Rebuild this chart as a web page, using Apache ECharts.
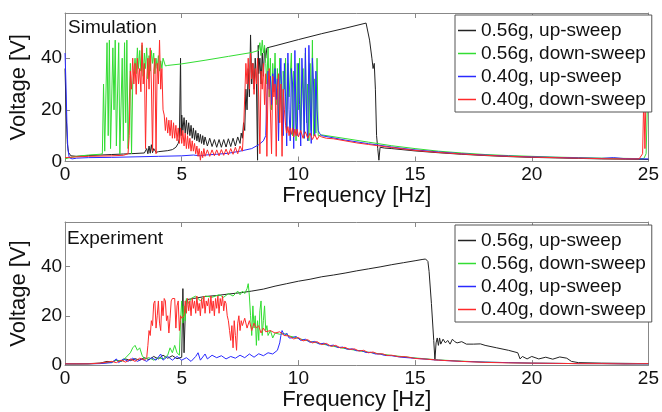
<!DOCTYPE html>
<html>
<head>
<meta charset="utf-8">
<script src="https://cdn.jsdelivr.net/npm/echarts@6/dist/echarts.min.js"></script>
<style>
  html, body { margin: 0; padding: 0; background: #fff; }
  #chart { width: 662px; height: 412px; }
</style>
</head>
<body>
<div id="chart"></div>
<script>
// legend names
var names = ["0.56g, up-sweep", "0.56g, down-sweep", "0.40g, up-sweep", "0.40g, down-sweep"];
var xTicks = [0, 5, 10, 15, 20, 25];
var yTicks = [0, 20, 40];

// ---- Simulation (top) : [frequency Hz, voltage V] ----
var simUp056 = [
  [0,36],[0.05,18],[0.1,7],[0.15,3.5],[0.25,2.2],[0.5,2],[1,2.3],[1.5,2.5],[2,2.7],[2.5,2.9],[3,3.1],[3.4,3.3],
  [3.5,5],[3.55,3],[3.6,6],[3.65,3.2],[3.7,6.5],[3.75,3.4],[3.8,5],[3.9,3.5],[4.0,3.8],[4.2,4],[4.4,4.2],[4.6,4.6],
  [4.75,5.5],[4.85,7],[4.9,9],[4.95,40],[4.98,10],
  [5.0,18],[5.05,12],[5.1,17],[5.15,11],[5.2,16],[5.25,10.5],[5.3,15],[5.35,10],[5.4,14],[5.45,9],[5.5,13],[5.55,8.5],
  [5.6,12],[5.65,8],[5.7,11],[5.75,7.5],[5.8,10.5],[5.85,7],[5.9,10],[5.95,6.5],[6.0,9.5],[6.1,6],[6.2,9],[6.3,5.8],
  [6.4,8.5],[6.5,5.5],[6.6,8.5],[6.7,5.5],[6.8,8.5],[6.9,5.6],[7.0,8.8],[7.1,5.8],[7.2,9],[7.3,6],[7.4,9.5],[7.5,7],
  [7.55,11],[7.6,9],[7.65,15],[7.7,12],
  [7.75,28],[7.8,20],[7.85,36],[7.9,25],[7.95,49],[8.0,30],[8.05,38],[8.1,28],[8.15,40],[8.2,32],[8.25,0.5],[8.28,45],
  [8.3,34],[8.35,40],[8.4,30],[8.45,42],[8.5,33],[8.55,44],[8.6,40],[8.65,44],
  [9,44.8],[10,47.2],[11,49.5],[12,51.6],[12.9,53.6],[12.95,53],[13.05,47],[13.15,40],[13.2,36],[13.25,38],[13.3,28],
  [13.35,10],[13.4,5],[13.45,0.5],[13.5,5.5],[13.7,5.2],[14,5],[15,4.1],[16,3.4],[17,2.8],[18,2.3],[19,1.9],[20,1.6],
  [21,1.4],[22,1.2],[23,1.0],[24,0.9],[25,0.8]
];
var simDown056 = [
  [0,1],[0.2,1.5],[0.5,2],[1.0,2.5],[1.5,2.8],
  [1.6,3],[1.65,30],[1.7,4],[1.8,46],[1.85,10],[1.9,47],[1.95,5],[2.05,44],[2.1,20],[2.15,47],[2.2,6],[2.3,46],[2.35,3],
  [2.45,40],[2.5,8],[2.55,46],[2.6,15],[2.65,47],[2.7,5],[2.8,38],[2.85,3],[2.9,30],
  [3.0,40],[3.05,34],[3.1,44],[3.15,36],[3.2,43],[3.25,35],[3.3,45],[3.35,33],[3.4,42],[3.45,36],[3.5,44],[3.55,32],
  [3.6,41],[3.65,35],[3.7,43],[3.75,38],[3.8,42],[3.85,34],[3.9,40],[3.95,36],[4.0,41],[4.05,35],[4.1,39],[4.15,36],
  [4.2,40],[4.3,37],
  [4.4,37.2],[5,37.8],[6,39.2],[7,40.7],[8,42.2],[8.3,43],
  [8.35,46],[8.4,41],[8.45,47],[8.5,42],[8.55,45],[8.6,38],
  [8.65,30],[8.7,44],[8.75,25],[8.8,40],[8.85,20],[8.9,38],[8.95,28],[9.0,42],[9.05,22],[9.1,36],[9.15,15],[9.2,40],
  [9.25,30],[9.3,10],[9.35,35],[9.4,28],[9.45,40],[9.5,12],[9.55,38],[9.6,25],[9.7,42],[9.75,10],[9.8,35],[9.85,30],
  [9.9,8],[9.95,38],[10.0,20],[10.05,40],[10.1,12],[10.2,36],[10.25,9],[10.3,42],[10.35,15],[10.4,30],[10.45,8],
  [10.5,38],[10.55,12],[10.6,47],[10.65,10],[10.7,32],[10.75,11],[10.8,40],[10.85,10],
  [10.9,10.5],[11,10.3],[12,8.9],[13,7.5],[14,6.1],[15,5],[16,4],[17,3.3],[18,2.7],[19,2.3],[20,2],[21,1.7],[22,1.5],
  [23,1.3],[24,1.2],[24.8,1.1],[24.9,3],[24.95,20],[25,34]
];
var simUp040 = [
  [0,42],[0.04,30],[0.08,15],[0.12,5],[0.18,1.5],[0.3,1],[0.5,1.3],[1,1.5],[2,1.6],[3,1.8],[4,2],[5,2.2],[5.5,2.5],
  [5.8,2.2],[6,2.5],[6.5,2.8],[7,3.2],[7.5,4],[8,5],[8.3,6.5],[8.5,8],[8.6,10],
  [8.65,25],[8.7,35],[8.75,28],[8.8,33],[8.85,22],[8.9,34],[8.95,27],[9.0,36],[9.05,24],[9.1,32],[9.15,8],[9.2,30],
  [9.25,40],[9.3,20],[9.35,10],[9.4,38],[9.45,25],[9.5,6],[9.55,42],[9.6,20],[9.65,8],[9.7,36],[9.75,30],[9.8,5],
  [9.85,43],[9.9,15],[9.95,10],[10.0,38],[10.05,22],[10.1,6],[10.15,40],[10.2,28],[10.25,9],[10.3,44],[10.35,18],
  [10.4,8],[10.45,45],[10.5,25],[10.55,7],[10.6,40],[10.65,30],[10.7,10],[10.75,35],[10.8,20],[10.85,12],
  [10.9,11],[11,10],[12,8.3],[13,6.9],[14,5.6],[15,4.5],[16,3.7],[17,3],[18,2.5],[19,2.1],[20,1.8],[21,1.6],[22,1.4],
  [23,1.2],[23.5,1.5],[24,1.1],[25,1]
];
var simDown040 = [
  [0,1.5],[0.5,1.8],[1,2],[2,2.2],[2.5,2.4],[2.7,3],
  [2.75,10],[2.8,35],[2.85,28],[2.9,40],[2.95,30],[3.0,38],[3.05,26],[3.1,40],[3.15,30],[3.2,36],[3.25,27],[3.3,46],
  [3.35,30],[3.4,38],[3.45,5],[3.5,32],[3.55,40],[3.6,28],[3.65,44],[3.7,30],[3.75,4],[3.8,35],[3.85,40],[3.9,3],
  [3.95,38],[4.0,30],[4.05,47],[4.1,28],[4.15,36],[4.2,20],
  [4.25,18],[4.3,12],[4.35,17],[4.4,11],[4.45,16],[4.5,10],[4.55,16],[4.6,9],[4.65,15],[4.7,9],[4.75,14],[4.8,8],
  [4.85,13],[4.9,7],[4.95,13],[5.0,7],[5.05,12],[5.1,6],[5.15,11],[5.2,5],[5.25,10],[5.3,5],[5.35,9],[5.4,4],[5.45,8],
  [5.5,4],[5.55,7],[5.6,3],
  [5.65,6],[5.7,2],[5.75,5],[5.8,0.5],[5.85,4],[5.9,1.5],[5.95,5],[6.0,2],[6.1,4.5],[6.2,2],[6.3,4.5],[6.4,2.2],
  [6.5,4.5],[6.6,2.2],[6.7,4.6],[6.8,2.4],[6.9,4.8],[7.0,2.5],[7.1,5],[7.2,2.8],[7.3,5.5],[7.4,3],[7.5,6],[7.6,4],
  [7.65,12],[7.7,25],[7.75,38],[7.8,30],[7.85,40],[7.9,28],[7.95,42],[8.0,32],[8.05,38],[8.1,26],[8.15,36],[8.2,30],
  [8.25,40],[8.3,25],[8.35,3],[8.4,35],[8.45,28],[8.5,38],[8.55,22],[8.6,34],[8.65,2],[8.7,30],[8.75,36],[8.8,20],
  [8.85,3],[8.9,33],[8.95,25],[9.0,30],[9.05,2],[9.1,28],[9.15,34],[9.2,15],[9.25,30],[9.3,2],[9.35,28],[9.4,20],
  [9.45,14],[9.5,11],[9.55,13.5],[9.6,10],[9.65,13],[9.7,10.5],[9.75,13],[9.8,9.5],[9.85,12.5],[9.9,10],[9.95,12.5],
  [10.0,9.5],[10.1,12],[10.2,9],[10.3,11.5],[10.4,9],[10.5,11],[10.6,8.5],[10.7,10.5],[10.8,8.5],[10.9,10],[11,9.5],
  [11.2,9],[11.5,8.8],[12,8],[12.5,7.2],[13,6.6],[14,5.4],[15,4.3],[16,3.5],[17,2.9],[18,2.4],[19,2],[20,1.7],[21,1.5],
  [22,1.3],[23,1.1],[24,1],[24.6,1],[24.75,3],[24.8,25],[24.85,5],[24.9,28],[25,22]
];

// ---- Experiment (bottom) ----
var expUp056 = [
  [0,0.5],[0.5,0.5],[1,0.6],[1.5,0.8],[1.8,1.5],[2,1.2],[2.2,2],[2.4,1.5],[2.6,2.5],[2.8,1.8],[3,2.6],[3.2,2],[3.4,3],
  [3.6,2.2],[3.8,3.5],[4.0,2.5],[4.2,4],[4.4,2.8],[4.6,3.8],[4.8,2.6],[5.0,3.2],[5.05,31],[5.1,5],[5.15,20],[5.2,26.5],
  [5.5,27],[6,27.8],[6.5,28.2],[7,28.8],[7.5,29.3],[8,30],[8.5,30.8],[9,32],[9.5,33],[10,34],[10.5,34.8],[11,35.8],
  [11.5,36.5],[12,37.3],[12.5,38.2],[13,39],[13.5,39.8],[14,40.7],[14.5,41.5],[15,42.3],[15.3,42.8],[15.45,43],
  [15.55,42],[15.6,38],[15.7,25],[15.8,10],[15.85,2],[15.9,9],[15.95,11],[16.0,8],[16.05,11],[16.1,8.5],[16.2,10.5],
  [16.3,9],[16.4,10],[16.5,8.5],[16.6,10.5],[16.7,9.5],[16.8,9],[17.0,9.5],[17.2,8.5],[17.5,8.5],[17.8,8.6],[18,8],
  [18.5,7],[19,6],[19.4,5],[19.5,2.5],[19.6,3.5],[19.8,2.5],[20,3.5],[20.3,2.5],[20.6,3.2],[20.9,2.4],[21.2,3.3],
  [21.5,2.8],[21.7,1.5],[22,1],[23,0.8],[24,0.7],[25,0.6]
];
var expDown056 = [
  [0,0.5],[1,0.5],[1.5,0.7],[2,1.2],[2.2,2],[2.4,1.5],[2.6,3],[2.8,5],[2.9,7],[3.0,8],[3.1,6],[3.2,7],[3.3,4],[3.4,2.5],
  [3.6,3],[3.8,2],[4.0,3],[4.2,2.5],[4.4,4],[4.5,7],[4.6,5],[4.7,8],[4.8,5],[4.9,4],[4.95,18],[5.0,26],[5.05,17],
  [5.1,24],[5.15,18],[5.2,27],[5.3,25],[5.4,27],[5.6,28],[5.8,26],[6,28],[6.3,27.5],[6.6,28.5],[6.8,27.5],[7.0,29],
  [7.2,28],[7.4,30],[7.5,28.5],[7.6,30],[7.7,29],[7.8,31],[7.85,33],[7.9,28],[7.95,20],[8.0,12],[8.05,24],[8.1,15],
  [8.15,20],[8.2,8],[8.25,18],[8.3,10],[8.35,22],[8.4,26],[8.45,12],[8.5,18],[8.55,24],[8.6,14],[8.65,16],[8.7,12],
  [8.8,14],[8.9,11],[9.0,13],[9.2,12.5],[9.4,12.8],[9.6,11.8],[9.8,11.4],[10,10.8],[10.5,9.6],[11,8.6],[11.5,7.6],
  [12,6.7],[13,5.2],[14,3.9],[15,2.9],[16,2.1],[17,1.6],[18,1.2],[19,1],[20,0.8],[21,0.7],[22,0.6],[23,0.6],[24,0.5],
  [25,0.5]
];
var expUp040 = [
  [0,0.5],[1,0.5],[1.5,0.6],[2,1],[2.2,2.5],[2.3,1],[2.5,2.5],[2.7,1.5],[2.9,2.8],[3.1,1.5],[3.3,2.5],[3.5,1.5],[3.7,3],
  [3.9,2],[4.1,4.5],[4.2,2],[4.4,3.5],[4.6,2],[4.8,3.5],[5.0,2],[5.2,3],[5.4,1.5],[5.6,3.5],[5.7,5],[5.8,2],[6.0,4.5],
  [6.1,2.5],[6.3,4],[6.5,3],[6.7,3.8],[6.9,2.5],[7.1,3.5],[7.3,2.8],[7.5,4],[7.7,3],[7.9,4.5],[8.1,3.2],[8.3,4.6],
  [8.5,3.8],[8.7,5],[8.9,4.5],[9.1,6],[9.2,9],[9.25,12],[9.3,14],[9.4,12],[9.5,13],[9.6,11],
  [9.7,11],[9.9,11.6],[10.1,10],[10.3,10.5],[10.5,9.2],[10.7,9.6],[10.9,8.5],[11.1,8.9],[11.3,7.8],[11.5,8.1],
  [11.7,7.1],[11.9,7.3],[12.1,6.4],[12.3,6.6],[12.5,5.8],[12.7,5.9],[12.9,5.1],[13.1,5.2],[13.3,4.5],[13.5,4.5],
  [13.7,3.9],[14.0,3.8],[14.4,3.2],[14.8,2.9],[15.2,2.6],[16,2],[17,1.5],[18,1.2],[19,1],[20,0.8],[21,0.7],[22,0.6],
  [23,0.6],[24,0.5],[25,0.5]
];
var expDown040 = [
  [0,0.5],[1,0.5],[1.5,0.8],[2,1.5],[2.2,1],[2.4,2],[2.6,1.2],[2.8,2.5],[3.0,1.5],[3.2,2.8],[3.4,2],[3.5,3],[3.55,8],
  [3.6,14],[3.65,12],[3.7,18],[3.75,16],[3.8,25],[3.85,26],[3.9,15],[3.95,20],[4.0,26],[4.05,17],[4.1,14],[4.15,26],
  [4.2,20],[4.25,27],[4.3,26],[4.35,18],[4.4,20],[4.45,13],[4.5,19],[4.55,26],[4.6,27],[4.65,26.5],[4.7,27],[4.75,15],
  [4.8,24],[4.85,26],[4.9,14],[4.95,20],[5.0,19],
  [5.1,20],[5.15,26],[5.2,21],[5.25,27],[5.3,22],[5.35,26],[5.4,20],[5.45,27],[5.5,23],[5.55,26],[5.6,21],[5.65,28],
  [5.7,22],[5.75,25],[5.8,20],[5.85,27],[5.9,23],[5.95,28],[6.0,21],[6.05,26],[6.1,24],[6.15,27],[6.2,21],[6.25,28],
  [6.3,22],[6.35,26],[6.4,20],[6.45,27],[6.5,23],[6.55,28],[6.6,21],[6.65,27],[6.7,24],[6.75,28],[6.8,22],[6.85,26],
  [6.9,25],[6.95,20],
  [7.0,18],[7.05,14],[7.1,10],[7.15,16],[7.2,7],[7.25,18],[7.3,12],[7.35,6],[7.4,17],[7.45,20],[7.5,14],[7.55,18],
  [7.6,16],[7.7,19],[7.8,15],[7.9,18],[8.0,14],[8.1,17],[8.2,15],[8.3,16],[8.4,13],[8.5,15],[8.6,13.5],[8.8,14],
  [9.0,13],[9.2,13.5],[9.4,12],
  [9.6,11.8],[9.8,10.6],[10.0,11.2],[10.2,9.8],[10.4,10.3],[10.6,9.0],[10.8,9.5],[11.0,8.3],[11.2,8.8],[11.4,7.6],
  [11.6,8.0],[11.8,7.0],[12.0,7.2],[12.2,6.3],[12.4,6.6],[12.6,5.7],[12.8,6.0],[13.0,5.0],[13.2,5.3],[13.4,4.5],
  [13.6,4.6],[13.8,3.9],[14.0,4.0],[14.3,3.4],[14.6,3.4],[15.0,2.7],[15.5,2.4],[16,2],[17,1.5],[18,1.1],[19,0.9],
  [20,0.8],[21,0.7],[22,0.6],[23,0.6],[24,0.5],[25,0.6]
];

var colors = ["#222222", "#33dd33", "#2a2aff", "#ff2a2a"];
var FONT = "'Liberation Sans', Arial, sans-serif";

function xAxisOf(gi, pos, withLabels) {
  return {
    type: "value", gridIndex: gi, position: pos,
    min: xTicks[0], max: xTicks[xTicks.length - 1], interval: xTicks[1] - xTicks[0],
    axisLine: { show: true, onZero: false, lineStyle: { color: "#888", width: 1 } },
    axisTick: { show: true, inside: true, length: 5, lineStyle: { color: "#888" } },
    axisLabel: { show: withLabels, color: "#111", fontSize: 19, fontFamily: FONT, margin: 4 },
    splitLine: { show: false },
    name: withLabels ? "Frequency [Hz]" : "",
    nameLocation: "middle", nameGap: 22,
    nameTextStyle: { color: "#111", fontSize: 22, fontFamily: FONT }
  };
}
function yAxisOf(gi, pos, withLabels, max) {
  return {
    type: "value", gridIndex: gi, position: pos,
    min: yTicks[0], max: max, interval: yTicks[1] - yTicks[0],
    axisLine: { show: true, onZero: false, lineStyle: { color: "#888", width: 1 } },
    axisTick: { show: true, inside: true, length: 5, lineStyle: { color: "#888" } },
    axisLabel: { show: withLabels, color: "#111", fontSize: 19, fontFamily: FONT, margin: 3, showMaxLabel: false },
    splitLine: { show: false },
    name: withLabels ? "Voltage [V]" : "",
    nameLocation: "middle", nameGap: 26,
    nameTextStyle: { color: "#111", fontSize: 22, fontFamily: FONT }
  };
}
function lineOf(idx, data, gi) {
  return {
    name: names[idx], type: "line", xAxisIndex: gi * 2, yAxisIndex: gi * 2,
    data: data, symbol: "none", showSymbol: false, animation: false,
    lineStyle: { color: colors[idx], width: 1 },
    itemStyle: { color: colors[idx] }
  };
}
function legendOf(top) {
  return {
    data: names, orient: "vertical", left: 455, top: top,
    icon: "rect", itemWidth: 18, itemHeight: 1.5, itemGap: 4,
    padding: [6, 6, 3, 3],
    borderColor: "#555", borderWidth: 1, backgroundColor: "#fff",
    textStyle: { color: "#111", fontSize: 19, fontFamily: FONT },
    selectedMode: false
  };
}

var chart = echarts.init(document.getElementById("chart"), null, { renderer: "canvas" });
chart.setOption({
  animation: false,
  backgroundColor: "#fff",
  grid: [
    { left: 60, top: 13, width: 594, height: 148.5 },
    { left: 60, top: 222, width: 594, height: 144.7 }
  ],
  xAxis: [xAxisOf(0, "bottom", true), xAxisOf(0, "top", false), xAxisOf(1, "bottom", true), xAxisOf(1, "top", false)],
  yAxis: [yAxisOf(0, "left", true, 57.5), yAxisOf(0, "right", false, 57.5), yAxisOf(1, "left", true, 58), yAxisOf(1, "right", false, 58)],
  legend: [legendOf(15), legendOf(225)],
  graphic: [
    { type: "text", left: 68, top: 18, style: { text: "Simulation", fill: "#111", font: "19px " + FONT } },
    { type: "text", left: 67, top: 229, style: { text: "Experiment", fill: "#111", font: "19px " + FONT } }
  ],
  series: [
    lineOf(0, simUp056, 0), lineOf(1, simDown056, 0), lineOf(2, simUp040, 0), lineOf(3, simDown040, 0),
    lineOf(0, expUp056, 1), lineOf(1, expDown056, 1), lineOf(2, expUp040, 1), lineOf(3, expDown040, 1)
  ]
});
</script>
</body>
</html>
